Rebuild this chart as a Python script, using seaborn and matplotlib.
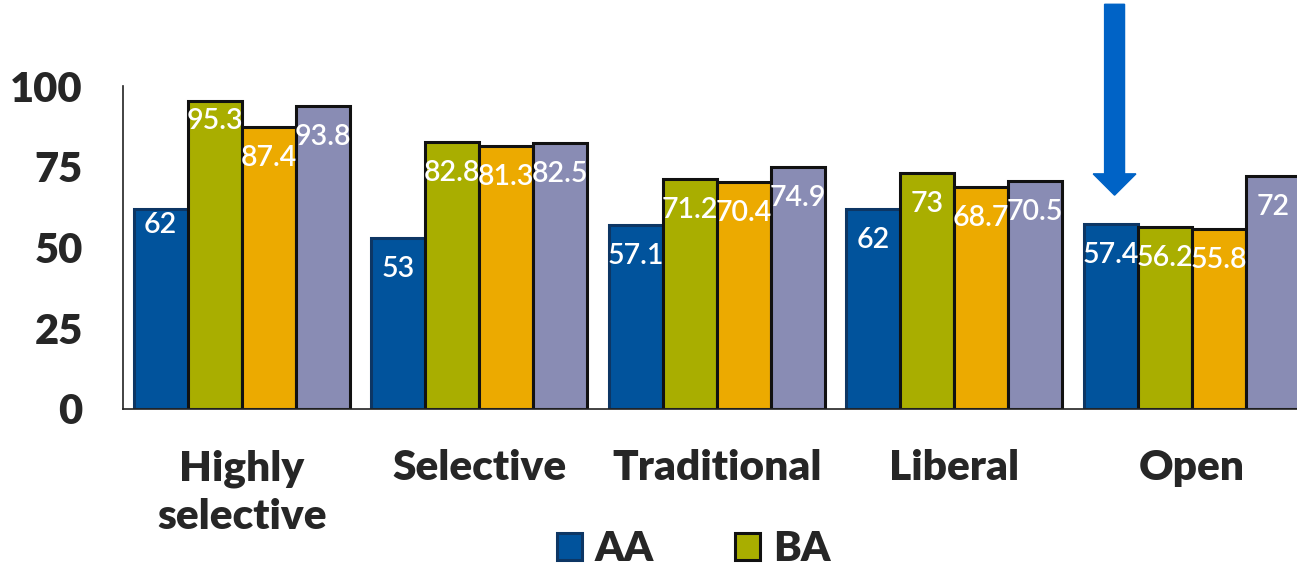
import matplotlib
matplotlib.use("Agg")
import matplotlib.pyplot as plt
from matplotlib.patches import FancyArrow, Patch
import seaborn as sns
import pandas as pd

# Data
categories = ["Highly\nselective", "Selective", "Traditional", "Liberal", "Open"]
series = ["AA", "BA", "S3", "S4"]
aa_values = [62, 53, 57.1, 62, 57.4]
ba_values = [95.3, 82.8, 71.2, 73, 56.2]
s3_values = [87.4, 81.3, 70.4, 68.7, 55.8]
s4_values = [93.8, 82.5, 74.9, 70.5, 72]
yticks = [0, 25, 50, 75, 100]

colors = ["#01539C", "#A9AE00", "#ECAA00", "#898CB4"]
edges = ["#0D3664", "#111111", "#111111", "#111111"]

rows = []
for s, vals in zip(series, [aa_values, ba_values, s3_values, s4_values]):
    for c, v in zip(categories, vals):
        rows.append({"category": c, "series": s, "value": v})
df = pd.DataFrame(rows)

sns.set_theme(style="white")
plt.rcParams["font.family"] = ["Lato", "DejaVu Sans"]

W, H = 1297, 567
fig = plt.figure(figsize=(W / 100, H / 100), dpi=100)
ax = fig.add_axes([123 / W, 1 - 409 / H, (1310.5 - 123) / W, (409 - 86) / H])

sns.barplot(data=df, x="category", y="value", hue="series", order=categories,
            hue_order=series, palette=colors, width=0.91, gap=0,
            legend=False, ax=ax, saturation=1, errorbar=None)

for cont, ec in zip(ax.containers, edges):
    for bar in cont:
        bar.set_edgecolor(ec)
        bar.set_linewidth(2.2)

# value labels inside bar tops
for si, cont in enumerate(ax.containers):
    for ci, bar in enumerate(cont):
        v = bar.get_height()
        off = -31
        if ci == 0 and si == 0:
            off = -16
        elif ci == 0 and si == 1:
            off = -20
        txt = f"{v:g}"
        ax.annotate(txt, (bar.get_x() + bar.get_width() / 2, v),
                    xytext=(0, off), textcoords="offset pixels",
                    ha="center", va="center", color="white",
                    fontsize=20.5, fontweight="semibold", clip_on=False)

ax.set_xlim(-0.5, 4.5)
ax.set_ylim(0, 100)
ax.set_yticks(yticks)
ax.set_yticklabels([str(t) for t in yticks], fontsize=30, fontweight="heavy")
ax.tick_params(axis="y", length=0, pad=29)
ax.tick_params(axis="x", length=0, pad=29)
ax.set_xticks(range(len(categories)))
ax.set_xticklabels(categories, fontsize=30.5, fontweight="heavy", linespacing=1.32,
                   va="top")
ax.set_xlabel("")
ax.set_ylabel("")
for side in ["top", "right"]:
    ax.spines[side].set_visible(False)
for side in ["left", "bottom"]:
    ax.spines[side].set_color("#222222")
    ax.spines[side].set_linewidth(1.2)

# highlight arrow above the Open / AA bar
arrow = FancyArrow(4 - 0.325, 125.3, 0, -125.3 + 66.2, width=0.084,
                   head_width=0.18, head_length=6.6, length_includes_head=True,
                   color="#0063C6", clip_on=False)
ax.add_patch(arrow)

handles = [Patch(facecolor=colors[i], edgecolor=edges[i], linewidth=2.2)
           for i in range(2)]
fig.legend(handles, series[:2], loc="center", bbox_to_anchor=(694 / W, 1 - 549 / H),
           ncol=2, frameon=False, prop={"family": ["Lato"], "weight": "heavy", "size": 30},
           handlelength=0.6, handleheight=0.6, handletextpad=0.3, columnspacing=1.95)

fig.savefig("out.png", dpi=100)
